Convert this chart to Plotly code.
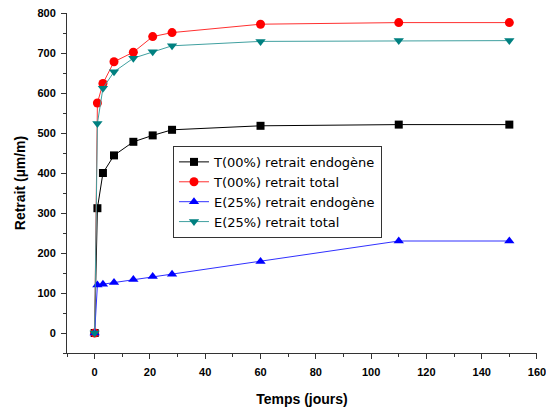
import plotly.graph_objects as go

days = [0, 1, 3, 7, 14, 21, 28, 60, 110, 150]
t_endo = [0, 312, 400, 444, 478, 494, 508, 518, 521, 521]
t_total = [0, 575, 624, 678, 702, 741, 751, 772, 776, 776]
e_endo = [0, 120, 122, 126, 134, 141, 147, 179, 230, 230]
e_total = [0, 524, 612, 653, 687, 703, 718, 729, 731, 731]

names = ["T(00%) retrait endogène", "T(00%) retrait total",
         "E(25%) retrait endogène", "E(25%) retrait total"]
series = [t_endo, t_total, e_endo, e_total]
colors = ["#000000", "#ff0000", "#0000ff", "#008080"]
lcolors = ["#000000", "#ff3030", "#3030ff", "#40a0a0"]
symbols = ["square", "circle", "triangle-up", "triangle-down"]
sizes = [8, 9, 9, 9]

fig = go.Figure()
for n, s, c, lc, sym, sz in zip(names, series, colors, lcolors, symbols, sizes):
    fig.add_trace(go.Scatter(
        x=days, y=s, name=n, mode="lines+markers",
        line=dict(color=lc, width=1),
        marker=dict(symbol=sym, size=sz, color=c, line=dict(width=0)),
    ))

fig.update_layout(
    width=546, height=410,
    margin=dict(l=67, r=9, t=13, b=57),
    paper_bgcolor="white", plot_bgcolor="white",
    font=dict(family="Arial, Liberation Sans", color="#000000"),
    showlegend=True,
    legend=dict(
        x=0.2255, y=0.609, xanchor="left", yanchor="top",
        bgcolor="white", bordercolor="#333333", borderwidth=1,
        font=dict(family="DejaVu Sans", size=13, color="#000000"),
        tracegroupgap=0, itemwidth=30,
    ),
    xaxis=dict(
        range=[-10, 160.01], tickmode="linear", tick0=0, dtick=20,
        ticks="outside", ticklen=5, tickwidth=1, tickcolor="#333333",
        showline=True, linecolor="#333333", linewidth=1,
        showgrid=False, zeroline=False, ticklabeloverflow="allow",
        ticklabelstandoff=4, automargin=False,
        minor=dict(dtick=10, tick0=0, ticks="outside", ticklen=3, tickcolor="#333333"),
        tickfont=dict(family="Arial, Liberation Sans", size=11, color="#000000"),
        title=dict(text="<b>Temps (jours)</b>", font=dict(size=14, family="Arial, Liberation Sans"), standoff=16),
    ),
    yaxis=dict(
        range=[-50, 800], tickmode="linear", tick0=0, dtick=100,
        ticks="outside", ticklen=5, tickwidth=1, tickcolor="#333333",
        showline=True, linecolor="#333333", linewidth=1,
        showgrid=False, zeroline=False, automargin=False,
        ticklabelstandoff=3,
        minor=dict(dtick=50, tick0=0, ticks="outside", ticklen=3, tickcolor="#333333"),
        tickfont=dict(family="Arial, Liberation Sans", size=11, color="#000000"),
        title=dict(text="<b>Retrait (µm/m)</b>", font=dict(size=14, family="Arial, Liberation Sans"), standoff=8),
    ),
)
fig.update_xaxes(tickprefix="<b>", ticksuffix="</b>")
fig.update_yaxes(tickprefix="<b>", ticksuffix="</b>")

fig.write_html("out.html")
